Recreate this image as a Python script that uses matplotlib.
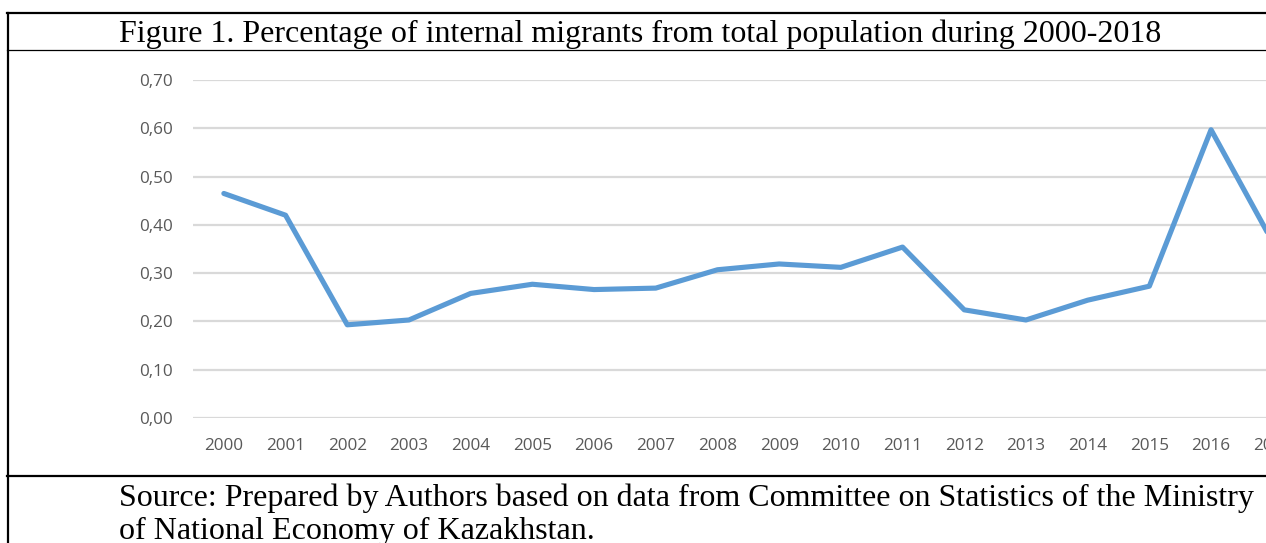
import matplotlib
matplotlib.use("Agg")
import matplotlib.pyplot as plt
from matplotlib.lines import Line2D
import matplotlib.ticker as mtick

# --- data ---
years = ['2000', '2001', '2002', '2003', '2004', '2005', '2006', '2007', '2008', '2009',
         '2010', '2011', '2012', '2013', '2014', '2015', '2016', '2017', '2018']
share = [0.465, 0.420, 0.193, 0.203, 0.258, 0.277, 0.266, 0.269, 0.307, 0.319,
         0.312, 0.354, 0.224, 0.203, 0.244, 0.273, 0.597, 0.364]
y_ticks = [0.0, 0.1, 0.2, 0.3, 0.4, 0.5, 0.6, 0.7]

title = "Figure 1. Percentage of internal migrants from total population during 2000-2018"
source_1 = "Source: Prepared by Authors based on data from Committee on Statistics of the Ministry"
source_2 = "of National Economy of Kazakhstan."

W, H = 1266, 543
LINE_BLUE = '#5b9bd5'
GRID = '#d9d9d9'
TICK_GRAY = '#595959'


def fx(px):
    return px / W


def fy(py):
    return 1 - py / H


fig = plt.figure(figsize=(W / 100, H / 100), dpi=100)

# chart area runs past the right edge (the screenshot is cropped there)
left, right = 193, 193 + 61.7 * len(years)
ax = fig.add_axes([fx(left), fy(418), fx(right - left), (418 - 80) / H])

x = list(range(len(share)))
ax.plot(x, share, color=LINE_BLUE, linewidth=3.7, solid_joinstyle='round',
        solid_capstyle='round', zorder=3, clip_on=False)

ax.set_xlim(-0.5, len(years) - 0.5)
ax.set_ylim(0, 0.7)
ax.set_xticks(range(len(years)))
ax.set_xticklabels(years)
ax.set_yticks(y_ticks)
ax.yaxis.set_major_formatter(mtick.FuncFormatter(lambda v, _: f'{v:.2f}'.replace('.', ',')))

ax.grid(axis='y', color=GRID, linewidth=1.6, zorder=0)
ax.grid(axis='x', visible=False)
for s in ax.spines.values():
    s.set_visible(False)
ax.tick_params(axis='both', length=0, colors=TICK_GRAY, labelsize=12.3)
ax.tick_params(axis='y', pad=14.5)
ax.tick_params(axis='x', pad=14.5)
for lab in ax.get_xticklabels() + ax.get_yticklabels():
    lab.set_fontfamily('Open Sans')

# --- document frame around the figure ---
frame = dict(color='black', transform=fig.transFigure)
fig.add_artist(Line2D([fx(7), 1], [fy(12.5), fy(12.5)], linewidth=1.6, **frame))
fig.add_artist(Line2D([fx(7), 1], [fy(50), fy(50)], linewidth=0.9, **frame))
fig.add_artist(Line2D([fx(7), 1], [fy(476), fy(476)], linewidth=1.6, **frame))
fig.add_artist(Line2D([fx(8), fx(8)], [fy(12.5), 0], linewidth=1.6, **frame))

serif = 'Liberation Serif'
fig.text(fx(119), fy(42), title, fontsize=23.05, family=serif, va='baseline', ha='left')
fig.text(fx(119), fy(506), source_1, fontsize=23.05, family=serif, va='baseline', ha='left')
fig.text(fx(119), fy(539), source_2, fontsize=23.05, family=serif, va='baseline', ha='left')

fig.savefig('out.png', dpi=100)
